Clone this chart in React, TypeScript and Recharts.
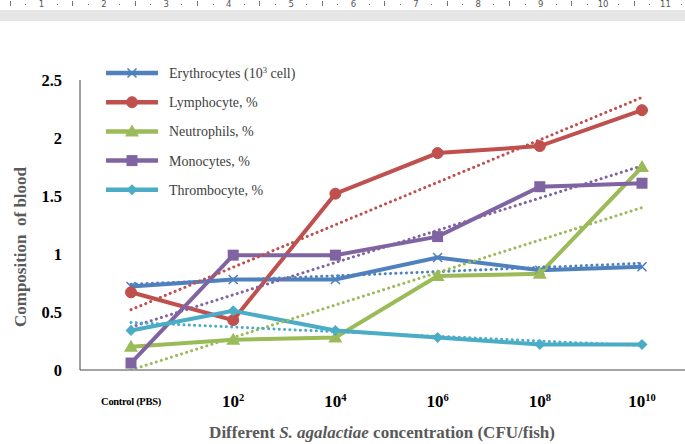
import React from 'react';
import { LineChart, Line, XAxis, YAxis, Label } from 'recharts';

// ---- data ----
const categories = ['Control (PBS)', '10^2', '10^4', '10^6', '10^8', '10^10'];
const yTicks = [0, 0.5, 1, 1.5, 2, 2.5];

const erythrocytes = [0.72, 0.78, 0.78, 0.97, 0.86, 0.89];
const lymphocyte = [0.67, 0.43, 1.52, 1.87, 1.93, 2.24];
const neutrophils = [0.2, 0.26, 0.28, 0.81, 0.83, 1.75];
const monocytes = [0.06, 0.99, 0.99, 1.15, 1.58, 1.61];
const thrombocyte = [0.34, 0.51, 0.34, 0.28, 0.22, 0.22];

// linear trend lines: [value at first category, value at last category]
const erythrocytesTrend = [0.74, 0.92];
const lymphocyteTrend = [0.52, 2.35];
const neutrophilsTrend = [0.0, 1.4];
const monocytesTrend = [0.37, 1.76];
const thrombocyteTrend = [0.41, 0.21];

const seriesNames = [
  'Erythrocytes (10^3 cell)',
  'Lymphocyte, %',
  'Neutrophils, %',
  'Monocytes, %',
  'Thrombocyte, %',
];

const rulerLabels = ['1', '2', '3', '4', '5', '6', '7', '8', '9', '10', '11'];

// ---- styling ----
const SERIF = '"Liberation Serif", "Times New Roman", serif';
const COLORS = ['#4F81BD', '#C0504D', '#9BBB59', '#8064A2', '#4BACC6'];
const MARKERS = ['cross', 'circle', 'triangle', 'square', 'diamond'];

const seriesValues = [erythrocytes, lymphocyte, neutrophils, monocytes, thrombocyte];
const trendValues = [erythrocytesTrend, lymphocyteTrend, neutrophilsTrend, monocytesTrend, thrombocyteTrend];
const keys = ['ery', 'lym', 'neu', 'mon', 'thr'];

const rows = categories.map((c, i) => {
  const r: any = { name: c };
  keys.forEach((k, s) => {
    r[k] = seriesValues[s][i];
    r[k + 'T'] = i === 0 ? trendValues[s][0] : i === categories.length - 1 ? trendValues[s][1] : null;
  });
  return r;
});

function marker(type: string, cx: number, cy: number, color: string, key?: any) {
  if (cx == null || cy == null) return <g key={key} />;
  switch (type) {
    case 'cross': {
      const d = 4.5;
      return (
        <path key={key} d={`M${cx - d},${cy - d}L${cx + d},${cy + d}M${cx + d},${cy - d}L${cx - d},${cy + d}`}
          stroke={color} strokeWidth={1.6} fill="none" />
      );
    }
    case 'circle':
      return <circle key={key} cx={cx} cy={cy} r={5.5} fill={color} stroke={color} />;
    case 'triangle':
      return <polygon key={key} points={`${cx},${cy - 7} ${cx + 7},${cy + 5} ${cx - 7},${cy + 5}`} fill={color} />;
    case 'square':
      return <rect key={key} x={cx - 5.5} y={cy - 5.5} width={11} height={11} fill={color} />;
    case 'diamond':
      return <polygon key={key} points={`${cx},${cy - 5.5} ${cx + 5.5},${cy} ${cx},${cy + 5.5} ${cx - 5.5},${cy}`} fill={color} />;
  }
  return <g key={key} />;
}

function withSup(text: string, big: number, small: number) {
  const parts = text.split('^');
  if (parts.length === 1) return text;
  const [base, rest] = parts;
  const m = rest.match(/^(\d+)(.*)$/);
  const exp = m ? m[1] : rest;
  const tail = m ? m[2] : '';
  return (
    <>
      <tspan>{base}</tspan>
      <tspan fontSize={small} dy={-big * 0.36}>{exp}</tspan>
      {tail ? <tspan dy={big * 0.36}>{tail}</tspan> : null}
    </>
  );
}

const XTick = (props: any) => {
  const { x, y, payload } = props;
  const v: string = payload.value;
  if (v.indexOf('^') < 0) {
    return (
      <text x={x} y={y + 35} textAnchor="middle" fontFamily={SERIF} fontWeight="bold" fontSize={10.5}
        fill="#000" style={{ letterSpacing: '-0.3px', fontFamily: SERIF }}>
        {v}
      </text>
    );
  }
  return (
    <text x={x} y={y + 37} textAnchor="middle" fontFamily={SERIF} fontWeight="bold" fontSize={17} fill="#000"
      style={{ fontFamily: SERIF }}>
      {withSup(v, 17, 10.5)}
    </text>
  );
};

const YTick = (props: any) => {
  const { y, payload } = props;
  return (
    <text x={62} y={y} dy="0.36em" textAnchor="end" fontFamily={SERIF} fontWeight="bold" fontSize={16.5} fill="#000"
      style={{ fontFamily: SERIF }}>
      {payload.value}
    </text>
  );
};

const XTitle = () => (
  <text x={382} y={438} textAnchor="middle" fontFamily={SERIF} fontWeight="bold" fontSize={17} fill="#595959"
    style={{ fontFamily: SERIF }}>
    <tspan>Different </tspan>
    <tspan fontStyle="italic">S. agalactiae</tspan>
    <tspan> concentration (CFU/fish)</tspan>
  </text>
);

const YTitle = () => (
  <text x={20} y={247} transform="rotate(-90 20 247)" textAnchor="middle" dominantBaseline="central"
    fontFamily={SERIF} fontWeight="bold" fontSize={17} fill="#595959" style={{ whiteSpace: 'pre', fontFamily: SERIF }}>
    {'Composition  of blood'}
  </text>
);

const LegendBox = () => (
  <svg width={270} height={150} style={{ position: 'absolute', left: 90, top: 55, fontFamily: SERIF }}>
    {seriesNames.map((n, i) => {
      const cy = 18 + i * 29.2;
      return (
        <g key={n}>
          <line x1={16} x2={68} y1={cy} y2={cy} stroke={COLORS[i]} strokeWidth={4.5} />
          {marker(MARKERS[i], 42, cy, COLORS[i])}
          <text x={79} y={cy} dy="0.35em" fontFamily={SERIF} fontSize={14} fill="#404040"
            style={{ fontFamily: SERIF }}>
            {withSup(n, 14, 8.5)}
          </text>
        </g>
      );
    })}
  </svg>
);

const Ruler = () => (
  <div style={{ position: 'absolute', left: 0, top: 0, width: 685, height: 24 }}>
    <div style={{ position: 'absolute', left: 0, top: 10, width: 685, height: 11, background: '#e6e6e6' }} />
    {rulerLabels.map((l, i) => {
      const x = 41.5 + i * 62.4;
      return (
        <React.Fragment key={l}>
          <span style={{ position: 'absolute', left: x - 10, width: 20, top: 0, lineHeight: '9px', textAlign: 'center',
            fontFamily: '"DejaVu Sans", sans-serif', fontSize: 8.5, color: '#555' }}>{l}</span>
          {[-0.75, -0.5, -0.25, 0.25].map((f) => {
            const px = x + f * 62.4;
            const tick = f === -0.5;
            return (
              <div key={f} style={{ position: 'absolute', left: px - 0.5, top: tick ? 1 : 3.5, width: 1,
                height: tick ? 5 : 1, background: '#777' }} />
            );
          })}
        </React.Fragment>
      );
    })}
  </div>
);

export default function App() {
  return (
    <div style={{ position: 'fixed', left: 0, top: 0, width: 685, height: 444, overflow: 'hidden', background: '#fff' }}>
      <Ruler />
      <div style={{ position: 'absolute', left: 0, top: 0 }}>
        <LineChart width={700} height={444} data={rows} margin={{ top: 80, right: 7, bottom: 44, left: 0 }}>
          <XAxis dataKey="name" height={30} interval={0} tickLine={false} tickSize={0} tickMargin={0}
            axisLine={{ stroke: '#868686', strokeWidth: 1.5 }} padding={{ left: 51, right: 51 }} tick={<XTick />}>
            <Label content={<XTitle />} />
          </XAxis>
          <YAxis width={80} domain={[0, 2.5]} ticks={yTicks} allowDataOverflow tickLine={false} tickSize={0}
            tickMargin={0} axisLine={{ stroke: '#404040', strokeWidth: 1 }} tick={<YTick />}>
            <Label content={<YTitle />} />
          </YAxis>
          {keys.map((k, i) => (
            <Line key={k} dataKey={k} type="linear" stroke={COLORS[i]} strokeWidth={4}
              isAnimationActive={false}
              dot={(p: any) => marker(MARKERS[i], p.cx, p.cy, COLORS[i], p.index)}
              activeDot={false} />
          ))}
          {keys.map((k, i) => (
            <Line key={k + 'T'} dataKey={k + 'T'} type="linear" stroke={COLORS[i]} strokeWidth={3}
              strokeDasharray="0.1 5.2" strokeLinecap="round" connectNulls dot={false} activeDot={false}
              isAnimationActive={false} />
          ))}
        </LineChart>
      </div>
      <LegendBox />
    </div>
  );
}
